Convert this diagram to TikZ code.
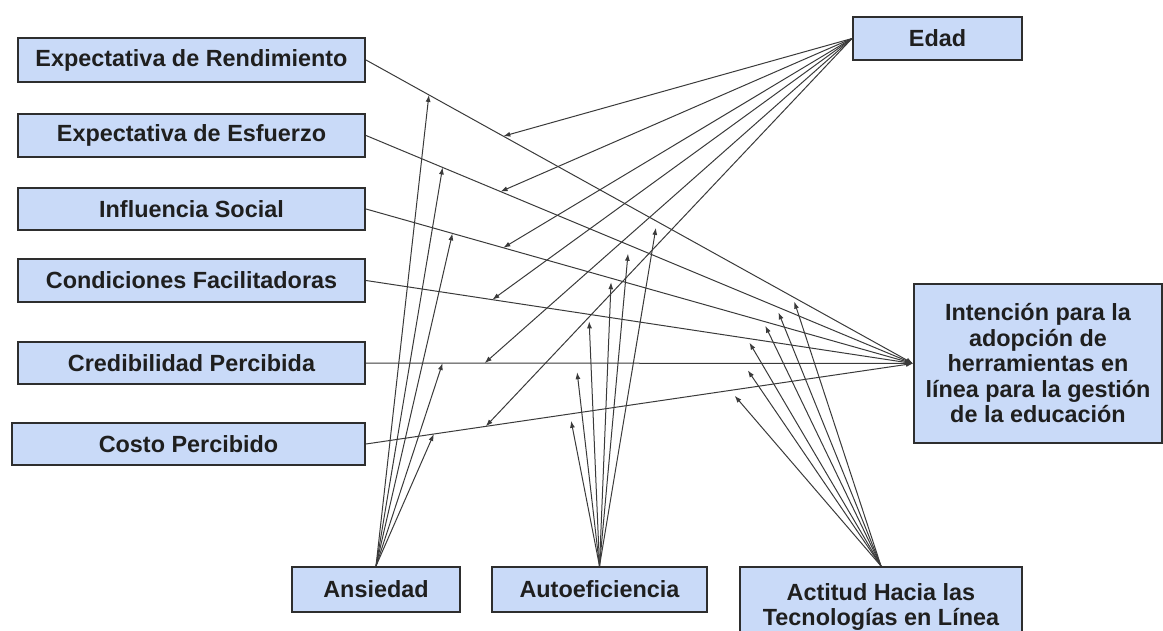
\documentclass[tikz,border=0pt]{standalone}
\usepackage{fontspec}
\setmainfont{Liberation Sans}
\usetikzlibrary{arrows.meta,calc}
\definecolor{boxfill}{HTML}{C9DAF8}
\definecolor{boxline}{HTML}{2E2E2E}
\definecolor{arr}{HTML}{3A3A3A}
\begin{document}
\begin{tikzpicture}[x=1pt,y=-1pt,
  box/.style={draw=boxline,line width=2pt,fill=boxfill,inner sep=0pt,
    font=\fontsize{23.4}{25.5}\selectfont\bfseries,text=black!88,align=center},
  link/.style={draw=arr,line width=1pt,-{Latex[length=7pt,width=5pt]}}]
\useasboundingbox (0,0) rectangle (1163,631);
% left boxes
\node[box,minimum width=347pt,minimum height=44pt] (ER) at (191.5,60) {Expectativa de Rendimiento};
\node[box,minimum width=347pt,minimum height=43pt] (EE) at (191.5,135.5) {Expectativa de Esfuerzo};
\node[box,minimum width=347pt,minimum height=42pt] (IS) at (191.5,209) {Influencia Social};
\node[box,minimum width=347pt,minimum height=43pt] (CF) at (191.5,280.5) {Condiciones Facilitadoras};
\node[box,minimum width=347pt,minimum height=42pt] (CrP) at (191.5,363) {Credibilidad Percibida};
\node[box,minimum width=353pt,minimum height=42pt] (CoP) at (188.5,444) {Costo Percibido};
% right boxes
\node[box,minimum width=169pt,minimum height=43pt] (ED) at (937.5,38.5) {Edad};
\node[box,minimum width=248pt,minimum height=159pt] (INT) at (1038,363.5)
  {Intención para la\\adopción de\\herramientas en\\línea para la gestión\\de la educación};
% bottom boxes
\node[box,minimum width=168pt,minimum height=45pt] (AN) at (376,589.5) {Ansiedad};
\node[box,minimum width=215pt,minimum height=45pt] (AU) at (599.5,589.5) {Autoeficiencia};
\node[box,minimum width=282pt,minimum height=80pt] (AC) at (881,607) {Actitud Hacia las\\Tecnologías en Línea};
% main paths
\foreach \n in {ER,EE,IS,CF,CrP,CoP} {\draw[link] (\n.east) -- (INT.west);}
% points on main paths
\coordinate (eER)  at ($(ER.east)!0.251!(INT.west)$);
\coordinate (eEE)  at ($(EE.east)!0.246!(INT.west)$);
\coordinate (eIS)  at ($(IS.east)!0.251!(INT.west)$);
\coordinate (eCF)  at ($(CF.east)!0.231!(INT.west)$);
\coordinate (eCrP) at ($(CrP.east)!0.217!(INT.west)$);
\coordinate (eCoP) at ($(CoP.east)!0.219!(INT.west)$);
\coordinate (aER)  at ($(ER.east)!0.115!(INT.west)$);
\coordinate (aEE)  at ($(EE.east)!0.140!(INT.west)$);
\coordinate (aIS)  at ($(IS.east)!0.158!(INT.west)$);
\coordinate (aCrP) at ($(CrP.east)!0.140!(INT.west)$);
\coordinate (aCoP) at ($(CoP.east)!0.124!(INT.west)$);
\coordinate (fER)  at ($(ER.east)!0.530!(INT.west)+(0,7)$);
\coordinate (fEE)  at ($(EE.east)!0.479!(INT.west)+(0,9)$);
\coordinate (fIS)  at ($(IS.east)!0.448!(INT.west)+(0,4)$);
\coordinate (fCF)  at ($(CF.east)!0.408!(INT.west)+(0,7)$);
\coordinate (fCrP) at ($(CrP.east)!0.386!(INT.west)+(0,9)$);
\coordinate (fCoP) at ($(CoP.east)!0.375!(INT.west)+(0,7)$);
\coordinate (tER)  at ($(ER.east)!0.783!(INT.west)+(0,4)$);
\coordinate (tEE)  at ($(EE.east)!0.754!(INT.west)+(0,5)$);
\coordinate (tIS)  at ($(IS.east)!0.730!(INT.west)+(0,4)$);
\coordinate (tCF)  at ($(CF.east)!0.701!(INT.west)+(0,4)$);
\coordinate (tCrP) at ($(CrP.east)!0.698!(INT.west)+(0,7)$);
\coordinate (tCoP) at ($(CoP.east)!0.674!(INT.west)+(0,6)$);
% moderators
\foreach \p in {eER,eEE,eIS,eCF,eCrP,eCoP} {\draw[link] (ED.west) -- (\p);}
\foreach \p in {aER,aEE,aIS,aCrP,aCoP} {\draw[link] (AN.north) -- (\p);}
\foreach \p in {fER,fEE,fIS,fCF,fCrP,fCoP} {\draw[link] (AU.north) -- (\p);}
\foreach \p in {tER,tEE,tIS,tCF,tCrP,tCoP} {\draw[link] (AC.north) -- (\p);}
\end{tikzpicture}
\end{document}
